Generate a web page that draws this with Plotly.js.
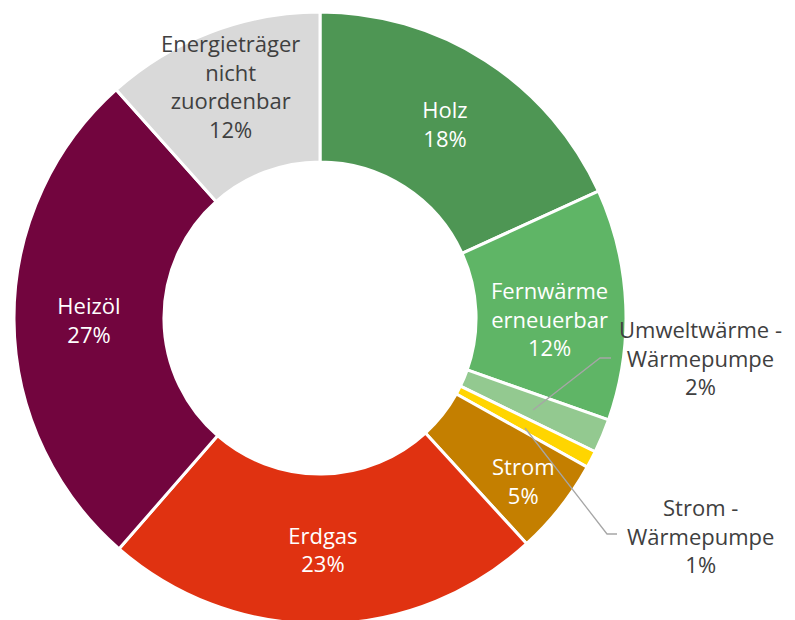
<!DOCTYPE html>
<html>
<head>
<meta charset="utf-8">
<script src="https://cdn.plot.ly/plotly-3.0.1.min.js"></script>
<style>
html,body{margin:0;padding:0;overflow:hidden;background:#fff;}
#chart{width:795px;height:630px;}
</style>
</head>
<body>
<div id="chart"></div>
<script>
// Data
var categories = ["Holz", "Fernwärme erneuerbar", "Umweltwärme - Wärmepumpe", "Strom - Wärmepumpe", "Strom", "Erdgas", "Heizöl", "Energieträger nicht zuordenbar"];
var labelLines = ["Holz", "Fernwärme<br>erneuerbar", "Umweltwärme -<br>Wärmepumpe", "Strom -<br>Wärmepumpe", "Strom", "Erdgas", "Heizöl", "Energieträger<br>nicht<br>zuordenbar"];
var shares = [18.2, 12.2, 1.8, 0.9, 5.1, 23.2, 27.0, 11.6];
var colors = ["#4e9654", "#5fb566", "#93c990", "#ffd500", "#c47f00", "#e03211", "#72053e", "#d9d9d9"];
var insideShown = [true, false, false, false, false, true, true, false];
var textColors = ["#ffffff", "#ffffff", "#404040", "#404040", "#ffffff", "#ffffff", "#ffffff", "#404040"];

var W = 795, H = 630;
function px(x){return x / W;}
function py(y){return 1 - y / H;}

var total = shares.reduce(function(a,b){return a+b;}, 0);
function pct(i){return Math.round(shares[i] / total * 100) + "%";}

var templates = insideShown.map(function(s){return s ? "%{text}<br>%{percent:.0%}" : "";});

var FONT = "Open Sans, sans-serif";
var FS = 22;
var trace = {
  type: "pie",
  labels: categories,
  values: shares,
  text: labelLines,
  texttemplate: templates,
  textinfo: "text",
  textposition: "inside",
  insidetextorientation: "horizontal",
  insidetextfont: {family: FONT, size: FS, color: textColors},
  hole: 0.51,
  sort: false,
  direction: "clockwise",
  rotation: 0,
  marker: {colors: colors, line: {color: "#ffffff", width: 3}},
  domain: {x: [px(14), px(626)], y: [py(624), py(12)]},
  hoverinfo: "label+percent"
};

function lab(i, x, y){
  return {xref: "paper", yref: "paper", x: px(x), y: py(y),
    text: labelLines[i] + "<br>" + pct(i), showarrow: false,
    font: {family: FONT, size: FS, color: textColors[i]},
    align: "center", xanchor: "center", yanchor: "middle"};
}

var layout = {
  width: W, height: H,
  margin: {l: 0, r: 0, t: 0, b: 0},
  paper_bgcolor: "#ffffff",
  showlegend: false,
  uniformtext: {mode: "show", minsize: FS},
  annotations: [
    lab(1, 549, 318),
    lab(7, 230, 86),
    lab(4, 523, 480),
    lab(2, 700, 357),
    lab(3, 700, 535)
  ],
  shapes: [
    {type: "path", xref: "paper", yref: "paper",
     path: "M" + px(533) + "," + py(410) + " L" + px(600) + "," + py(358) + " L" + px(611) + "," + py(358),
     line: {color: "#a6a6a6", width: 1.3}},
    {type: "path", xref: "paper", yref: "paper",
     path: "M" + px(525) + "," + py(428) + " L" + px(607) + "," + py(534) + " L" + px(617) + "," + py(534),
     line: {color: "#a6a6a6", width: 1.3}}
  ]
};

Plotly.newPlot("chart", [trace], layout, {displayModeBar: false, staticPlot: true});
</script>
</body>
</html>
